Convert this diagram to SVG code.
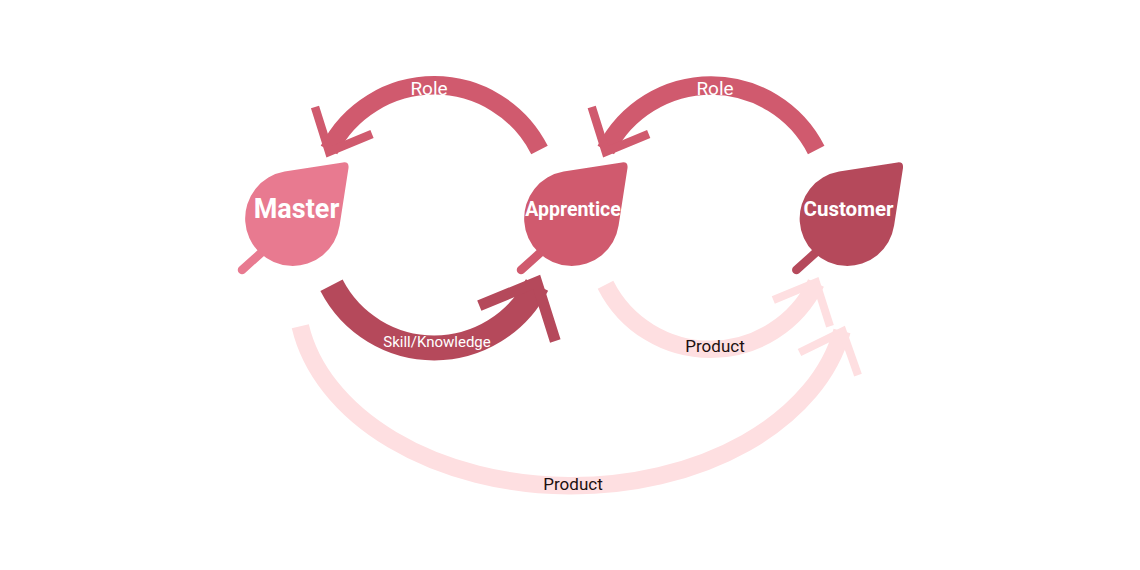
<svg xmlns="http://www.w3.org/2000/svg" width="1140" height="570" viewBox="0 0 1140 570">
<style>
.l{fill:none;stroke-linejoin:miter;stroke-miterlimit:10}
.h{fill:none;stroke-width:8.5;stroke-linecap:round}
.t{font-family:Roboto,"Liberation Sans",sans-serif;text-anchor:middle}
.n{font-weight:700;fill:#fff}
.w{fill:#fff;font-weight:400}
.d{fill:#1c1010}
</style>
<defs>
<path id="leaf" d="M343 162.4Q349.2 161.6 348.5 168L339.6 225.6A47.5 47.5 0 1 1 284.6 171.6Z"/>
</defs>
<rect width="1140" height="570" fill="#fff"/>
<g id="connectors">
<g stroke="#D05A6E" class="l">
<path class="l" stroke-width="18.5" d="M539.5 150A118 118 0 0 0 329 150"/>
<path class="l" stroke-width="8.5" d="M315 107L329.1 151.7L372 134"/>
<path class="l" stroke-width="18.5" d="M816.2 150A118 118 0 0 0 605.8 150"/>
<path class="l" stroke-width="8.5" d="M591.7 107L605.8 151.7L648.7 134"/>
</g>
<g stroke="#B5495B" class="l">
<path class="l" stroke-width="25" d="M331.5 285.3A115.5 115.5 0 0 0 537 285"/>
<path class="l" stroke-width="11" d="M479.3 305.7L536.7 282L555.3 341"/>
</g>
<g stroke="#FEDFE1" class="l">
<path class="l" stroke-width="17.5" d="M605.5 284.7A117.3 117.3 0 0 0 816 283"/>
<path class="l" stroke-width="8" d="M773.3 300L816 282.3L830 326.3"/>
<path class="l" stroke-width="17.5" d="M300.3 326.2A275 190 0 0 0 842 331"/>
<path class="l" stroke-width="8" d="M799.5 352.5L842.6 331.4L858 375.2"/>
</g>
</g>
<g id="master">
<path class="h" stroke="#E87A90" d="M262 252L242 270"/>
<use href="#leaf" fill="#E87A90"/>
<text class="t n" x="296.5" y="218" font-size="27">Master</text>
</g>
<g id="apprentice">
<path class="h" stroke="#D05A6E" d="M541 252L521 270"/>
<use href="#leaf" x="279" fill="#D05A6E"/>
<text class="t n" x="573" y="216" font-size="19.5">Apprentice</text>
</g>
<g id="customer">
<path class="h" stroke="#B5495B" d="M816.3 252L796.3 270"/>
<use href="#leaf" x="554.5" fill="#B5495B"/>
<text class="t n" x="848.5" y="216" font-size="20.5">Customer</text>
</g>
<g id="labels">
<text class="t w" x="429" y="95" font-size="19">Role</text>
<text class="t w" x="715" y="95" font-size="19">Role</text>
<text class="t w" x="437" y="347" font-size="15">Skill/Knowledge</text>
<text class="t d" x="715" y="352" font-size="17">Product</text>
<text class="t d" x="573" y="490" font-size="17">Product</text>
</g>
</svg>
